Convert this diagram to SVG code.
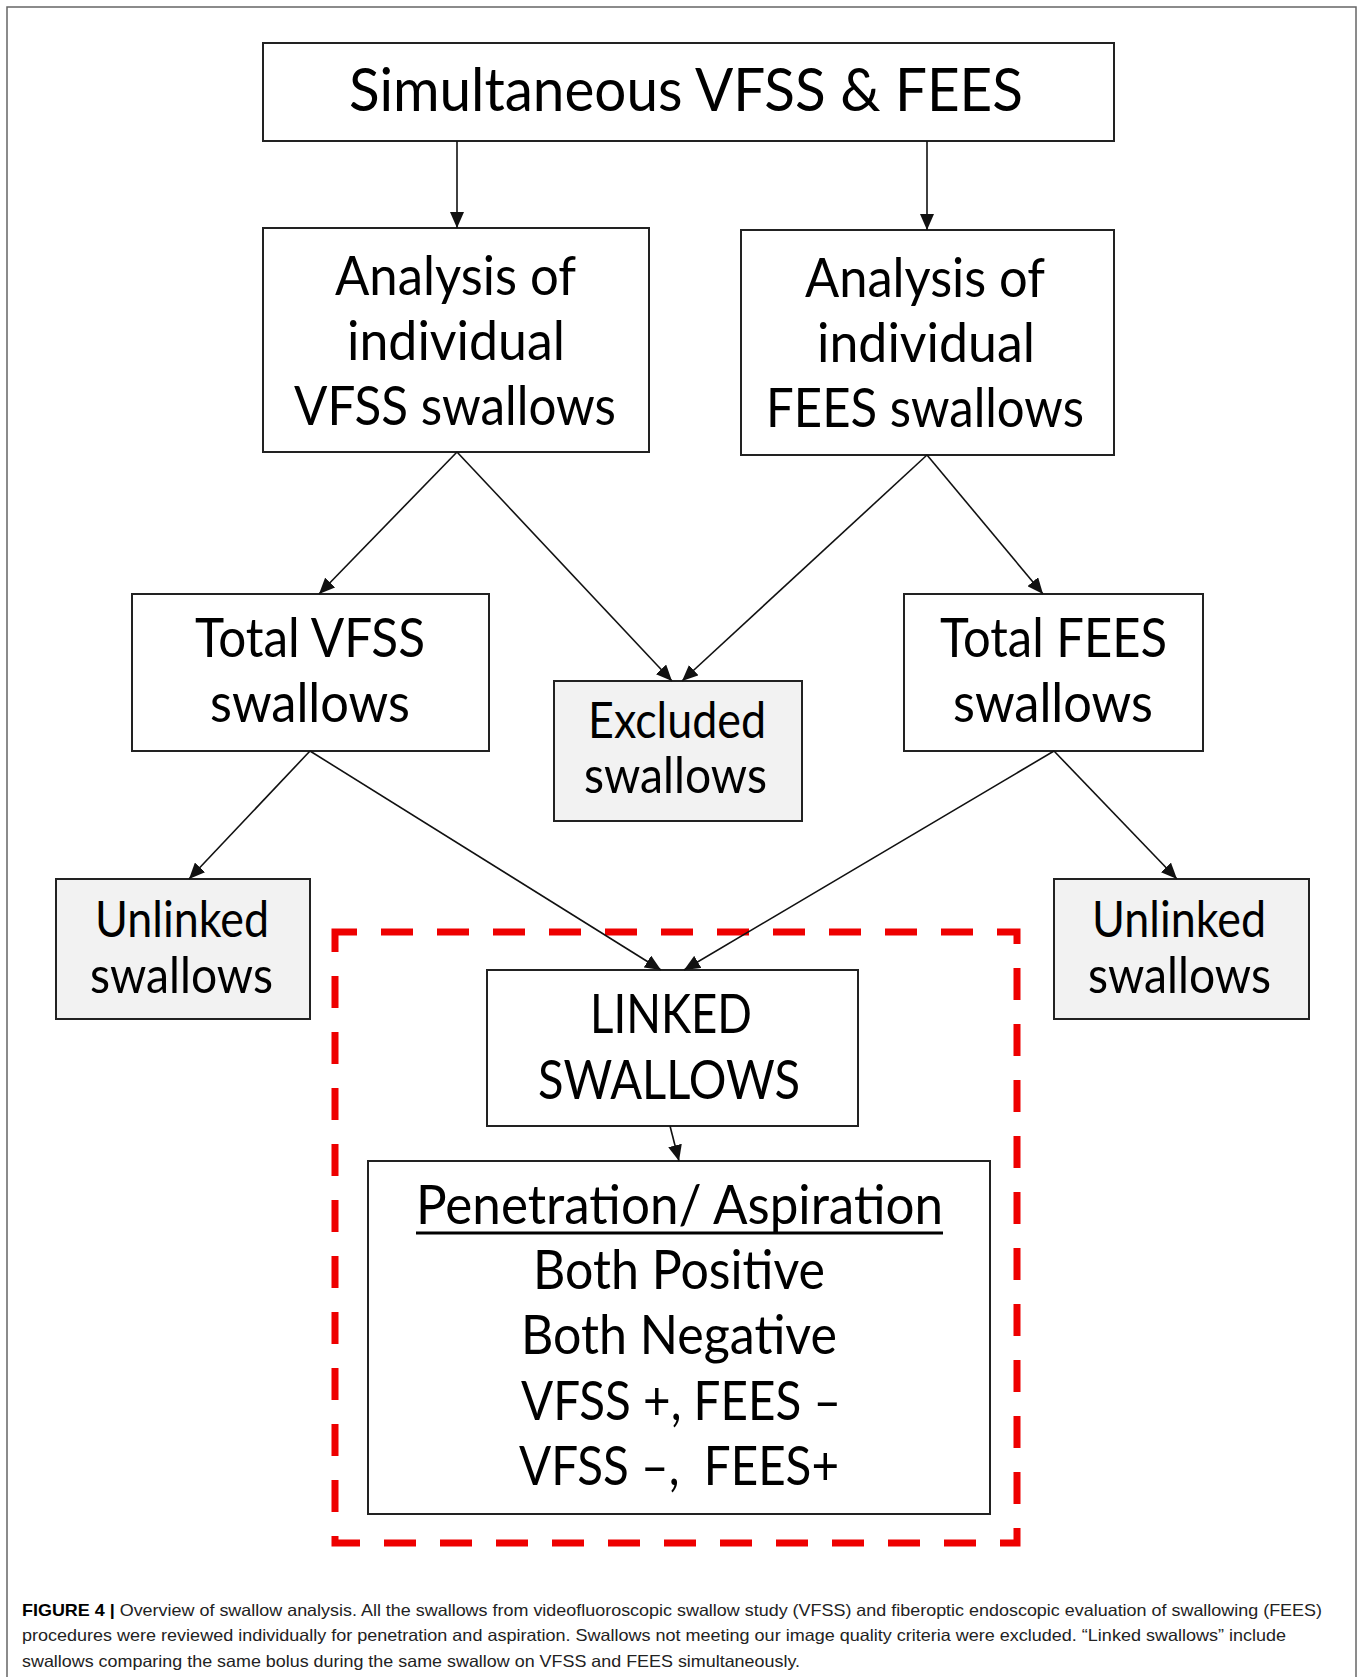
<svg xmlns="http://www.w3.org/2000/svg" width="1363" height="1677" viewBox="0 0 1363 1677">
<defs>
<marker id="ah" viewBox="0 0 16 14" refX="16" refY="7" markerWidth="16" markerHeight="14" markerUnits="userSpaceOnUse" orient="auto">
<path d="M0,0 L16,7 L0,14 z" fill="#111"/>
</marker>
<style>
.box{fill:#fff;stroke:#222;stroke-width:2}
.gray{fill:#f2f2f2;stroke:#222;stroke-width:2}
.t{font-family:Lato,"Open Sans","DejaVu Sans",sans-serif;fill:#000;text-anchor:start}
.cap{font-family:"Liberation Sans",Arial,sans-serif;font-size:16.5px;fill:#222}
.conn line{stroke:#111;stroke-width:1.6;marker-end:url(#ah)}
</style>
</defs>
<rect width="1363" height="1677" fill="#fff"/>
<rect x="7" y="7" width="1349" height="1690" fill="none" stroke="#666" stroke-width="1.5"/>

<g id="linked-group">
<rect x="335" y="932" width="682" height="611" fill="none" stroke="#ee0000" stroke-width="7" stroke-dasharray="32 24" stroke-dashoffset="10"/>
</g>

<g id="n-top">
<rect class="box" x="263" y="43" width="851" height="98"/>
<text class="t" x="349" y="111" font-size="60" textLength="674" lengthAdjust="spacingAndGlyphs">Simultaneous VFSS &amp; FEES</text>
</g>

<g id="n-vfss-analysis">
<rect class="box" x="263" y="228" width="386" height="224"/>
<text class="t" x="335" y="295" font-size="54" textLength="241" lengthAdjust="spacingAndGlyphs">Analysis of</text>
<text class="t" x="347" y="360" font-size="54" textLength="218" lengthAdjust="spacingAndGlyphs">individual</text>
<text class="t" x="294" y="425" font-size="54" textLength="322" lengthAdjust="spacingAndGlyphs">VFSS swallows</text>
</g>

<g id="n-fees-analysis">
<rect class="box" x="741" y="230" width="373" height="225"/>
<text class="t" x="805" y="297" font-size="54" textLength="240" lengthAdjust="spacingAndGlyphs">Analysis of</text>
<text class="t" x="817" y="362" font-size="54" textLength="218" lengthAdjust="spacingAndGlyphs">individual</text>
<text class="t" x="766" y="427" font-size="54" textLength="318" lengthAdjust="spacingAndGlyphs">FEES swallows</text>
</g>

<g id="n-total-vfss">
<rect class="box" x="132" y="594" width="357" height="157"/>
<text class="t" x="195" y="657" font-size="54" textLength="230" lengthAdjust="spacingAndGlyphs">Total VFSS</text>
<text class="t" x="210" y="722" font-size="54" textLength="200" lengthAdjust="spacingAndGlyphs">swallows</text>
</g>

<g id="n-excluded">
<rect class="gray" x="554" y="681" width="248" height="140"/>
<text class="t" x="588" y="738" font-size="50" textLength="178" lengthAdjust="spacingAndGlyphs">Excluded</text>
<text class="t" x="584" y="793" font-size="50" textLength="183" lengthAdjust="spacingAndGlyphs">swallows</text>
</g>

<g id="n-total-fees">
<rect class="box" x="904" y="594" width="299" height="157"/>
<text class="t" x="940" y="657" font-size="54" textLength="227" lengthAdjust="spacingAndGlyphs">Total FEES</text>
<text class="t" x="953" y="722" font-size="54" textLength="200" lengthAdjust="spacingAndGlyphs">swallows</text>
</g>

<g id="n-unlinked-left">
<rect class="gray" x="56" y="879" width="254" height="140"/>
<text class="t" x="95" y="937" font-size="50" textLength="174" lengthAdjust="spacingAndGlyphs">Unlinked</text>
<text class="t" x="90" y="993" font-size="50" textLength="183" lengthAdjust="spacingAndGlyphs">swallows</text>
</g>

<g id="n-unlinked-right">
<rect class="gray" x="1054" y="879" width="255" height="140"/>
<text class="t" x="1092" y="937" font-size="50" textLength="174" lengthAdjust="spacingAndGlyphs">Unlinked</text>
<text class="t" x="1088" y="993" font-size="50" textLength="183" lengthAdjust="spacingAndGlyphs">swallows</text>
</g>

<g id="n-linked">
<rect class="box" x="487" y="970" width="371" height="156"/>
<text class="t" x="590" y="1033" font-size="54" textLength="162" lengthAdjust="spacingAndGlyphs">LINKED</text>
<text class="t" x="538" y="1099" font-size="54" textLength="262" lengthAdjust="spacingAndGlyphs">SWALLOWS</text>
</g>

<g id="n-pa">
<rect class="box" x="368" y="1161" width="622" height="353"/>
<text class="t" x="416" y="1224" font-size="54" textLength="527" lengthAdjust="spacingAndGlyphs">Penetration/ Aspiration</text>
<text class="t" x="533" y="1289" font-size="54" textLength="292" lengthAdjust="spacingAndGlyphs">Both Positive</text>
<text class="t" x="521" y="1354" font-size="54" textLength="316" lengthAdjust="spacingAndGlyphs">Both Negative</text>
<text class="t" x="521" y="1420" font-size="54" textLength="320" lengthAdjust="spacingAndGlyphs">VFSS +, FEES –</text>
<text class="t" x="519" y="1485" font-size="54" textLength="320" lengthAdjust="spacingAndGlyphs" xml:space="preserve">VFSS –,  FEES+</text>
<line x1="416" y1="1233" x2="943" y2="1233" stroke="#000" stroke-width="3"/>
</g>

<g id="connectors" class="conn">
<line x1="457" y1="141" x2="457" y2="228"/>
<line x1="927" y1="141" x2="927" y2="230"/>
<line x1="457" y1="452" x2="319" y2="594"/>
<line x1="457" y1="452" x2="672" y2="681"/>
<line x1="927" y1="455" x2="682" y2="681"/>
<line x1="927" y1="455" x2="1043" y2="594"/>
<line x1="310" y1="751" x2="189" y2="879"/>
<line x1="310" y1="751" x2="661" y2="970"/>
<line x1="1054" y1="751" x2="684" y2="970"/>
<line x1="1054" y1="751" x2="1177" y2="879"/>
<line x1="670" y1="1126" x2="679" y2="1161"/>
</g>

<g id="caption">
<text class="cap" x="22" y="1616" textLength="1300" lengthAdjust="spacingAndGlyphs"><tspan font-weight="bold" fill="#000">FIGURE 4 |</tspan> Overview of swallow analysis. All the swallows from videofluoroscopic swallow study (VFSS) and fiberoptic endoscopic evaluation of swallowing (FEES)</text>
<text class="cap" x="22" y="1641" textLength="1264" lengthAdjust="spacingAndGlyphs">procedures were reviewed individually for penetration and aspiration. Swallows not meeting our image quality criteria were excluded. “Linked swallows” include</text>
<text class="cap" x="22" y="1667" textLength="778" lengthAdjust="spacingAndGlyphs">swallows comparing the same bolus during the same swallow on VFSS and FEES simultaneously.</text>
</g>
</svg>
